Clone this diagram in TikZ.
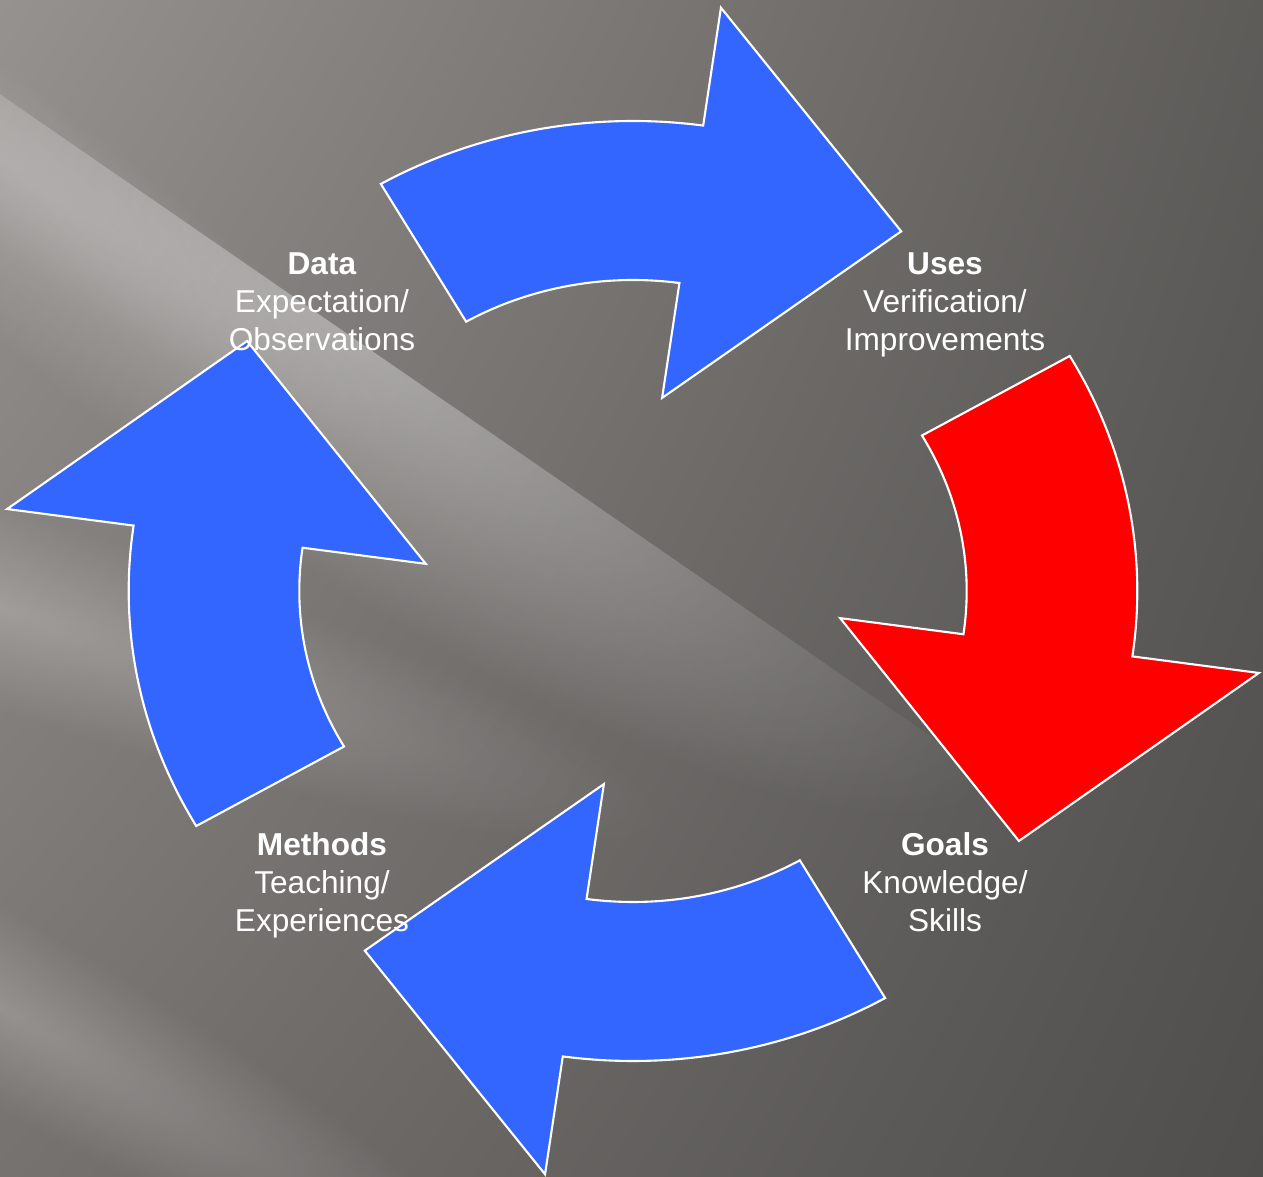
\documentclass[tikz,border=0pt]{standalone}
\usepackage{fontspec}
\newfontfamily\cyclefont{Liberation Sans}
\usetikzlibrary{fadings,shadings}
\definecolor{arrowblue}{RGB}{51,102,255}
\definecolor{arrowred}{RGB}{255,0,0}
\definecolor{bgtl}{RGB}{150,146,143}
\definecolor{bgtr}{RGB}{94,92,89}
\definecolor{bgbl}{RGB}{118,114,111}
\definecolor{bgbr}{RGB}{79,78,77}
\tikzfading[name=glow, inner color=transparent!0, outer color=transparent!100]

\begin{document}
\begin{tikzpicture}[x=1cm, y=1cm,
  cyclearrow/.style={draw=white, line width=0.6pt, line join=miter},
  cycletext/.style={text=white, align=center, font=\cyclefont\fontsize{9}{10.8}\selectfont}]
  \def\rIn{3.11}
  \def\rOut{4.70}
  \def\rBarbIn{1.95}
  \def\rBarbOut{5.89}
  \def\rTip{4.38}
  % background
  \useasboundingbox (0,0) rectangle (12.63,11.77);
  \begin{scope}
    \clip (0,0) rectangle (12.63,11.77);
    \shade [upper left=bgtl, upper right=bgtr, lower left=bgbl, lower right=bgbr] (0,0) rectangle (12.63,11.77);
    % main streak, sharp upper edge
    \begin{scope}[transform canvas={rotate around={-34.6:(5.20,7.24)}}]
      \clip (-12,-6) rectangle (25,7.24);
      \fill [white, opacity=0.36, path fading=glow] (3.0,7.24) ellipse [x radius=8, y radius=2.2];
    \end{scope}
    % soft streaks on the left
    \begin{scope}[transform canvas={rotate around={-18:(0,5.7)}}]
      \fill [white, opacity=0.22, path fading=glow] (0,5.7) ellipse [x radius=7, y radius=1.0];
    \end{scope}
    \begin{scope}[transform canvas={rotate around={-30:(0,1.7)}}]
      \fill [white, opacity=0.2, path fading=glow] (0,1.7) ellipse [x radius=6, y radius=0.9];
    \end{scope}
    \begin{scope}[transform canvas={rotate around={-36:(0,10.2)}}]
      \fill [white, opacity=0.14, path fading=glow] (0,10.2) ellipse [x radius=5, y radius=0.8];
    \end{scope}
  \end{scope}
  % the four arrows, clockwise from the top
  \begin{scope}[shift={(6.33,5.86)}, xscale=1.073]
    \foreach \a/\col in {0/arrowblue, -90/arrowred, -180/arrowblue, -270/arrowblue}
      \draw [cyclearrow, fill=\col] ({120+\a}:\rOut) arc ({120+\a}:{82+\a}:\rOut)
        -- ({82+\a}:\rBarbOut) -- ({55.2+\a}:\rTip) -- ({82+\a}:\rBarbIn)
        -- ({82+\a}:\rIn) arc ({82+\a}:{120+\a}:\rIn) -- cycle;
  \end{scope}
  % labels
  \node [cycletext] (data) at (3.22,8.75) {\textbf{Data}\\Expectation/\\Observations};
  \node [cycletext] (uses) at (9.45,8.72) {\textbf{Uses}\\Verification/\\Improvements};
  \node [cycletext] (methods) at (3.22,2.92) {\textbf{Methods}\\Teaching/\\Experiences};
  \node [cycletext] (goals) at (9.45,2.95) {\textbf{Goals}\\Knowledge/\\Skills};
\end{tikzpicture}
\end{document}
